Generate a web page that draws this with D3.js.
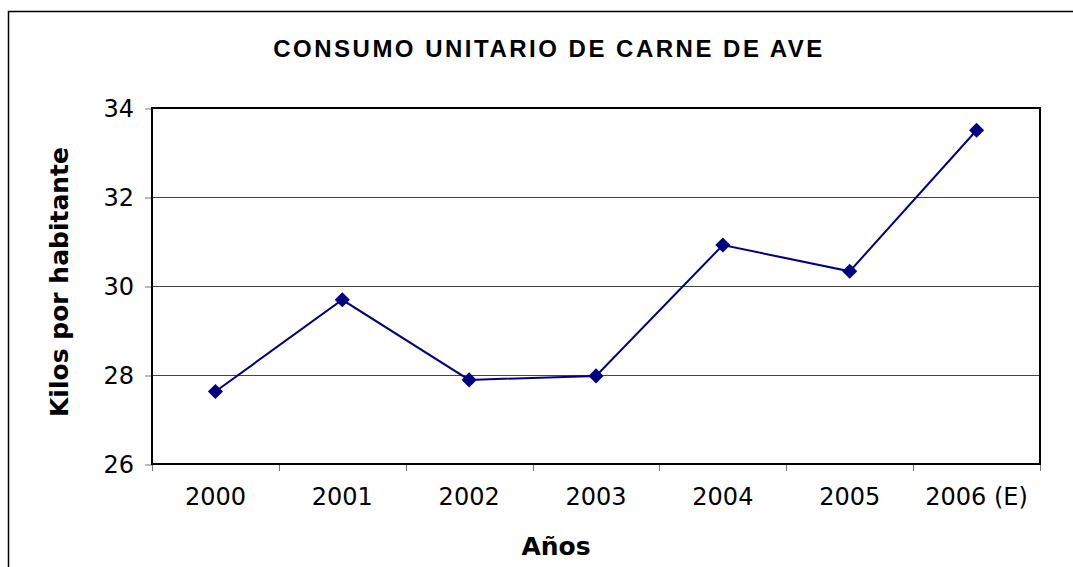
<!DOCTYPE html>
<html>
<head>
<meta charset="utf-8">
<script src="https://cdn.jsdelivr.net/npm/d3@7"></script>
<style>
  body { margin: 0; background: #fff; }
  svg { display: block; }
</style>
</head>
<body>
<svg width="1073" height="567"></svg>
<script>
var years = ["2000", "2001", "2002", "2003", "2004", "2005", "2006 (E)"];
var kilos = [27.63, 29.69, 27.89, 27.98, 30.92, 30.33, 33.5];
var yTicks = [26, 28, 30, 32, 34];

var svg = d3.select("svg");
var plotLeft = 152, plotRight = 1040, plotTop = 108, plotBottom = 464;

// outer chart border (runs off the right and bottom edges)
svg.append("rect")
  .attr("x", 8.5).attr("y", 11.5)
  .attr("width", 1100).attr("height", 600)
  .attr("fill", "none").attr("stroke", "#000").attr("stroke-width", 1.5);

var x = d3.scaleBand().domain(years).range([plotLeft, plotRight]);
var y = d3.scaleLinear().domain([26, 34]).range([plotBottom, plotTop]);

// gridlines
svg.append("g").selectAll("line")
  .data(yTicks.slice(1))
  .enter().append("line")
  .attr("x1", plotLeft).attr("x2", plotRight)
  .attr("y1", function(d) { return Math.round(y(d)) + 0.5; })
  .attr("y2", function(d) { return Math.round(y(d)) + 0.5; })
  .attr("stroke", "#444").attr("stroke-width", 1);

// y axis
var yAxis = svg.append("g")
  .attr("transform", "translate(" + plotLeft + ",0.5)")
  .call(d3.axisLeft(y).tickValues(yTicks).tickSize(7).tickPadding(11));
yAxis.select(".domain").remove();
yAxis.selectAll("line").attr("stroke", "#777");
yAxis.selectAll("text")
  .attr("font-family", "'DejaVu Sans', Verdana, sans-serif")
  .attr("font-size", 24).attr("fill", "#000");

// x axis, ticks on category boundaries
var xAxis = svg.append("g")
  .attr("transform", "translate(0," + plotBottom + ")")
  .call(d3.axisBottom(x).tickSize(0).tickPadding(24));
xAxis.select(".domain").remove();
xAxis.selectAll("text")
  .attr("font-family", "'DejaVu Sans', Verdana, sans-serif")
  .attr("font-size", 24).attr("fill", "#000");
svg.append("g").selectAll("line")
  .data(years.concat(["end"]))
  .enter().append("line")
  .attr("x1", function(d, i) { return Math.round(plotLeft + i * x.bandwidth()) + 0.5; })
  .attr("x2", function(d, i) { return Math.round(plotLeft + i * x.bandwidth()) + 0.5; })
  .attr("y1", plotBottom).attr("y2", plotBottom + 7)
  .attr("stroke", "#777");

// plot frame
svg.append("rect")
  .attr("x", plotLeft).attr("y", plotTop)
  .attr("width", plotRight - plotLeft).attr("height", plotBottom - plotTop)
  .attr("fill", "none").attr("stroke", "#000").attr("stroke-width", 2);

// line
var line = d3.line()
  .x(function(d, i) { return x(years[i]) + x.bandwidth() / 2; })
  .y(function(d) { return y(d); });
svg.append("path")
  .datum(kilos)
  .attr("d", line)
  .attr("fill", "none").attr("stroke", "#000080").attr("stroke-width", 2);

svg.append("g").selectAll("path")
  .data(kilos)
  .enter().append("path")
  .attr("d", d3.symbol().type(d3.symbolDiamond2).size(145))
  .attr("transform", function(d, i) {
    return "translate(" + (x(years[i]) + x.bandwidth() / 2) + "," + y(d) + ")";
  })
  .attr("fill", "#000080");

// titles
svg.append("text")
  .attr("x", 549).attr("y", 57)
  .attr("text-anchor", "middle")
  .attr("font-family", "'Liberation Sans', Arial, sans-serif")
  .attr("font-weight", "bold").attr("font-size", 24)
  .attr("letter-spacing", 2.5)
  .text("CONSUMO UNITARIO DE CARNE DE AVE");

svg.append("text")
  .attr("x", 556).attr("y", 555)
  .attr("text-anchor", "middle")
  .attr("font-family", "'DejaVu Sans', Verdana, sans-serif")
  .attr("font-weight", "bold").attr("font-size", 25)
  .text("Años");

svg.append("text")
  .attr("transform", "translate(68,282) rotate(-90)")
  .attr("text-anchor", "middle")
  .attr("font-family", "'DejaVu Sans', Verdana, sans-serif")
  .attr("font-weight", "bold").attr("font-size", 25)
  .text("Kilos por habitante");
</script>
</body>
</html>
